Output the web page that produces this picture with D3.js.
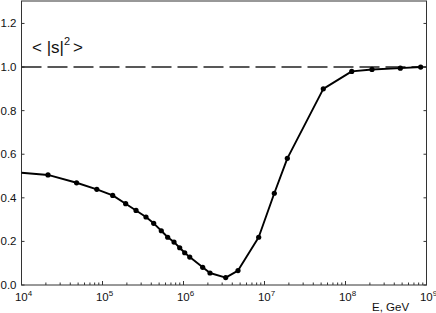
<!DOCTYPE html>
<html><head><meta charset="utf-8">
<script src="https://cdn.jsdelivr.net/npm/d3@7"></script>
<style>body{margin:0;background:#fff}svg{display:block}text{font-family:"Liberation Sans",Arial,sans-serif;fill:#111}</style>
</head><body><svg id="c" width="436" height="313"></svg>
<script>
// data (log10 E in GeV, <|s|^2>)
const logE = [4.327,4.68,4.93,5.126,5.286,5.414,5.537,5.632,5.726,5.805,5.883,5.953,6.015,6.077,6.237,6.327,6.521,6.673,6.928,7.121,7.282,7.726,8.077,8.327,8.677,8.928];
const s2   = [0.505,0.469,0.439,0.411,0.373,0.342,0.312,0.283,0.249,0.219,0.197,0.171,0.148,0.128,0.081,0.055,0.034,0.066,0.219,0.421,0.581,0.900,0.980,0.989,0.995,1.000];
const lineStart = {logE:4.0, s2:0.515};
const yTicks = [0.0,0.2,0.4,0.6,0.8,1.0,1.2];
const xDecades = [4,5,6,7,8,9];
const refLevel = 1.0;

const svg = d3.select("#c");
const L=21.5, R=426.5, T=1, B=285;
const x = d3.scaleLog().domain([1e4,1e9]).range([L,R]);
const y = d3.scaleLinear().domain([0,1.303]).range([B,T]);
const frame="#333";

// frame
svg.append("rect").attr("x",L).attr("y",T).attr("width",R-L).attr("height",B-T)
  .attr("fill","none").attr("stroke",frame).attr("stroke-width",1);

// x ticks (inward)
const minor=[];
for(let d=4; d<9; d++) for(let m=2;m<=9;m++) minor.push(m*Math.pow(10,d));
svg.append("g").selectAll("line").data(minor).join("line")
  .attr("x1",d=>x(d)).attr("x2",d=>x(d)).attr("y1",B).attr("y2",B-2.5)
  .attr("stroke",frame).attr("stroke-width",1);
svg.append("g").selectAll("line").data(xDecades).join("line")
  .attr("x1",d=>x(Math.pow(10,d))).attr("x2",d=>x(Math.pow(10,d))).attr("y1",B).attr("y2",B-4)
  .attr("stroke",frame).attr("stroke-width",1);
const xl = svg.append("g").selectAll("text").data(xDecades).join("text")
  .attr("x",d=>x(Math.pow(10,d))+2).attr("y",301).attr("text-anchor","middle").attr("font-size",11.5);
xl.append("tspan").text("10");
xl.append("tspan").attr("dy",-5).attr("font-size",8).text(d=>d);

// y ticks (both sides inward)
svg.append("g").selectAll("line").data(yTicks).join("line")
  .attr("x1",L).attr("x2",L+3).attr("y1",d=>y(d)).attr("y2",d=>y(d)).attr("stroke",frame);
svg.append("g").selectAll("line").data(yTicks).join("line")
  .attr("x1",R).attr("x2",R-3).attr("y1",d=>y(d)).attr("y2",d=>y(d)).attr("stroke",frame);
svg.append("g").selectAll("text").data(yTicks).join("text")
  .attr("x",16.5).attr("y",d=>y(d)+4).attr("text-anchor","end").attr("font-size",11.5)
  .text(d=>d.toFixed(1));

// reference dashed line
svg.append("line").attr("x1",L).attr("x2",R).attr("y1",y(refLevel)).attr("y2",y(refLevel))
  .attr("stroke","#222").attr("stroke-width",1.4).attr("stroke-dasharray","20,6");

// data line
const pts = [lineStart].concat(logE.map((e,i)=>({logE:e,s2:s2[i]})));
const line = d3.line().x(d=>x(Math.pow(10,d.logE))).y(d=>y(d.s2));
svg.append("path").attr("d",line(pts)).attr("fill","none").attr("stroke","#000").attr("stroke-width",1.9)
  .attr("stroke-linejoin","round");
svg.append("g").selectAll("circle").data(logE).join("circle")
  .attr("cx",d=>x(Math.pow(10,d))).attr("cy",(d,i)=>y(s2[i])).attr("r",2.6).attr("fill","#000");

// labels
const lab = svg.append("text").attr("x",32).attr("y",53).attr("font-size",17);
lab.append("tspan").text("< |s|");
lab.append("tspan").attr("dy",-8).attr("font-size",11).text("2");
lab.append("tspan").attr("dy",8).attr("dx",3).text(">");
svg.append("text").attr("x",372).attr("y",311).attr("font-size",11.5).text("E, GeV");
</script></body></html>
